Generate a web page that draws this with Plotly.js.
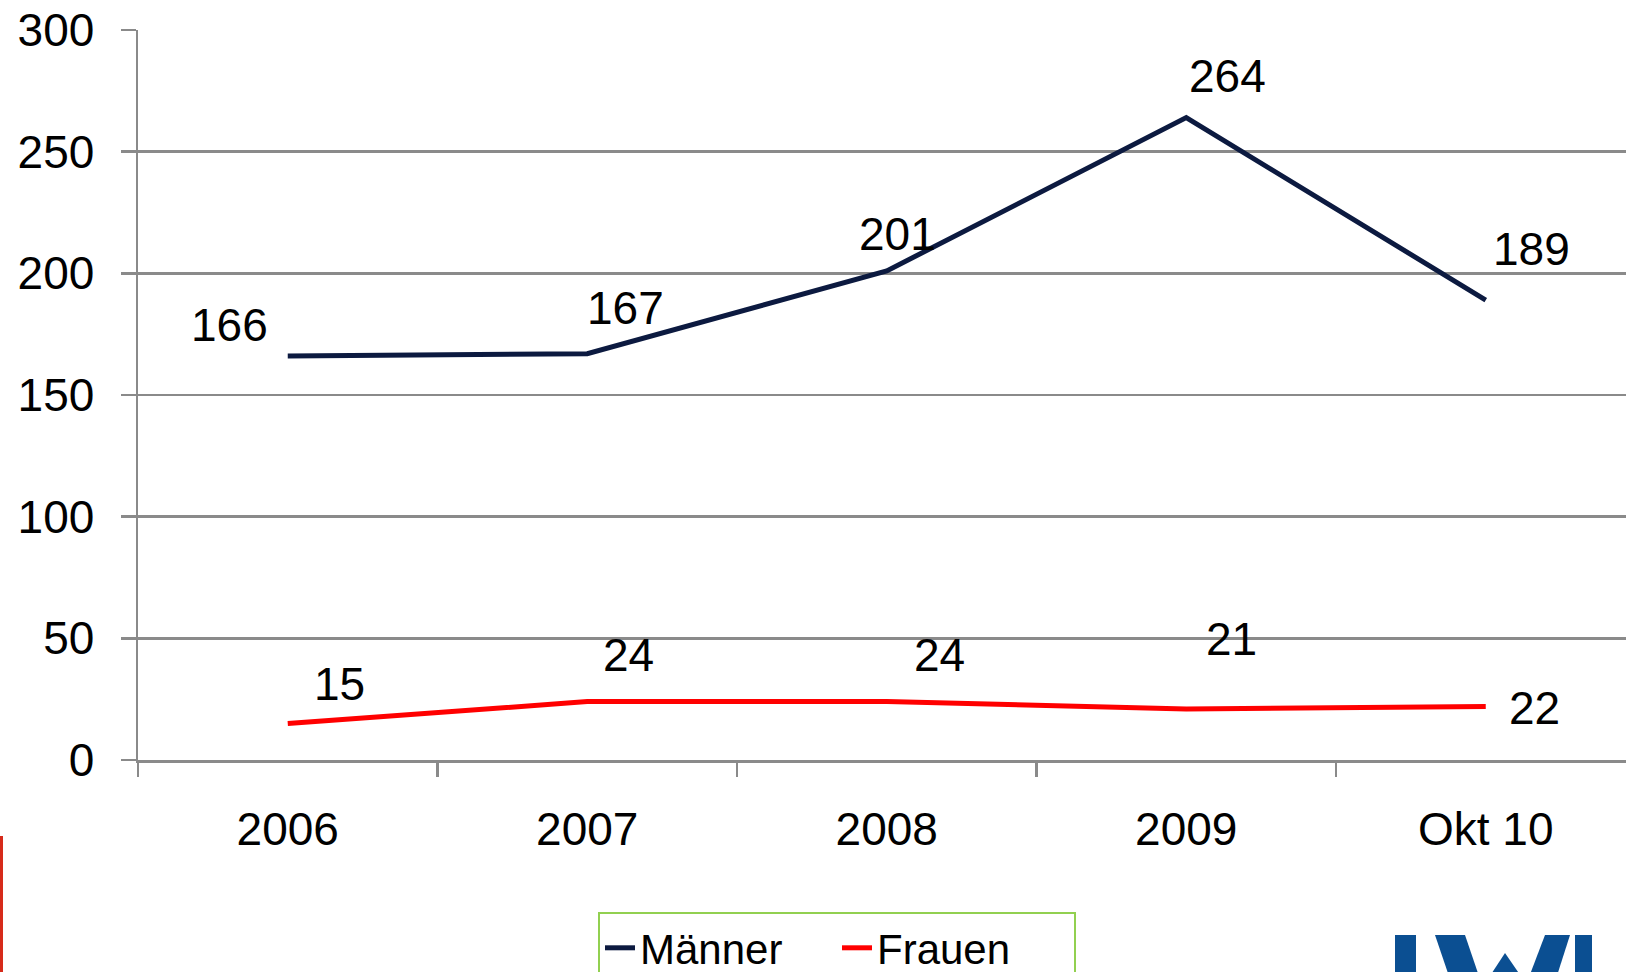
<!DOCTYPE html>
<html>
<head>
<meta charset="utf-8">
<script src="https://cdn.plot.ly/plotly-3.0.1.min.js"></script>
<style>
  html, body { margin: 0; padding: 0; background: #ffffff; }
  #chart { width: 1626px; height: 972px; }
</style>
</head>
<body>
<div id="chart"></div>
<script>
// ---- data ----
var categories = ["2006", "2007", "2008", "2009", "Okt 10"];
var maenner = [166, 167, 201, 264, 189];
var frauen = [15, 24, 24, 21, 22];
var seriesNames = ["Männer", "Frauen"];
var yTicks = [0, 50, 100, 150, 200, 250, 300];

// ---- label offsets (px, layout only) ----
var maennerShift = [[-58, 31], [38, 46], [11, 37], [41, 42], [46, 51]];
var frauenShift = [[52, 40], [41, 47], [53, 47], [45, 70], [49, -2]];

var W = 1626, H = 972;
var M = {l: 138, r: 0, t: 30, b: 212};
var PW = W - M.l - M.r, PH = H - M.t - M.b;
function xp(px) { return (px - M.l) / PW; }
function yp(py) { return 1 - (py - M.t) / PH; }

var FONT = "Arial, 'Liberation Sans', sans-serif";
var GRID = "#8a8a8a";
var NAVY = "#0c1a40";
var RED = "#ff0000";

var traces = [
  {x: categories, y: maenner, name: seriesNames[0], type: "scatter", mode: "lines",
   line: {color: NAVY, width: 5}, hoverinfo: "x+y"},
  {x: categories, y: frauen, name: seriesNames[1], type: "scatter", mode: "lines",
   line: {color: RED, width: 5}, hoverinfo: "x+y"}
];

var annotations = [];
function addLabels(vals, shifts) {
  for (var i = 0; i < vals.length; i++) {
    annotations.push({
      x: i, y: vals[i], xref: "x", yref: "y",
      text: String(vals[i]), showarrow: false,
      xshift: shifts[i][0], yshift: shifts[i][1],
      font: {family: FONT, size: 46, color: "#000000"}
    });
  }
}
addLabels(maenner, maennerShift);
addLabels(frauen, frauenShift);

// LWL logo (an image in the reference, clipped at the bottom edge) drawn as shapes
var LOGO = "#0b4f92";
function poly(pts) {
  return "M" + pts.map(function (p) { return xp(p[0]) + "," + yp(p[1]); }).join("L") + "Z";
}
var logoPolys = [
  [[1395, 935], [1416, 935], [1416, 985], [1395, 985]],
  [[1435, 935], [1465, 935], [1482, 985], [1452, 985]],
  [[1505, 953], [1527, 985], [1484, 985]],
  [[1545, 935], [1570, 935], [1554, 985], [1526, 985]],
  [[1575, 935], [1592, 935], [1592, 985], [1575, 985]]
];
var shapes = logoPolys.map(function (pts) {
  return {type: "path", xref: "paper", yref: "paper", path: poly(pts),
          fillcolor: LOGO, line: {width: 0}, layer: "above"};
});
shapes.push({type: "line", xref: "paper", yref: "paper",
  x0: xp(1.5), x1: xp(1.5), y0: yp(836), y1: yp(990),
  line: {color: "#d62a1a", width: 3}});

var layout = {
  width: W, height: H,
  margin: M,
  paper_bgcolor: "#ffffff", plot_bgcolor: "#ffffff",
  font: {family: FONT, color: "#000000"},
  showlegend: true,
  legend: {
    orientation: "h", xref: "container", yref: "container",
    x: 598 / W, xanchor: "left", y: 1 - 912 / H, yanchor: "top",
    bordercolor: "#92d050", borderwidth: 2, bgcolor: "#ffffff",
    font: {family: FONT, size: 42, color: "#000000"},
    entrywidth: 192, entrywidthmode: "pixels"
  },
  xaxis: {
    type: "category", range: [-0.5, -0.5 + PW / 299.5],
    showgrid: false, zeroline: false,
    showline: true, linecolor: GRID, linewidth: 2.5,
    ticks: "outside", tickson: "boundaries", ticklen: 14, tickcolor: GRID, tickwidth: 2.5,
    tickfont: {family: FONT, size: 46, color: "#000000"},
    ticklabelstandoff: 27,
    fixedrange: true
  },
  yaxis: {
    range: [0, 300], tickvals: yTicks, ticktext: yTicks.map(String),
    showgrid: true, gridcolor: GRID, gridwidth: 2.5,
    zeroline: false, showline: true, linecolor: GRID, linewidth: 2.5,
    ticks: "outside", ticklen: 15, tickcolor: GRID, tickwidth: 2.5,
    tickfont: {family: FONT, size: 46, color: "#000000"},
    ticklabelstandoff: 17,
    fixedrange: true
  },
  annotations: annotations,
  shapes: shapes
};

Plotly.newPlot("chart", traces, layout, {displayModeBar: false, staticPlot: true});
</script>
</body>
</html>
